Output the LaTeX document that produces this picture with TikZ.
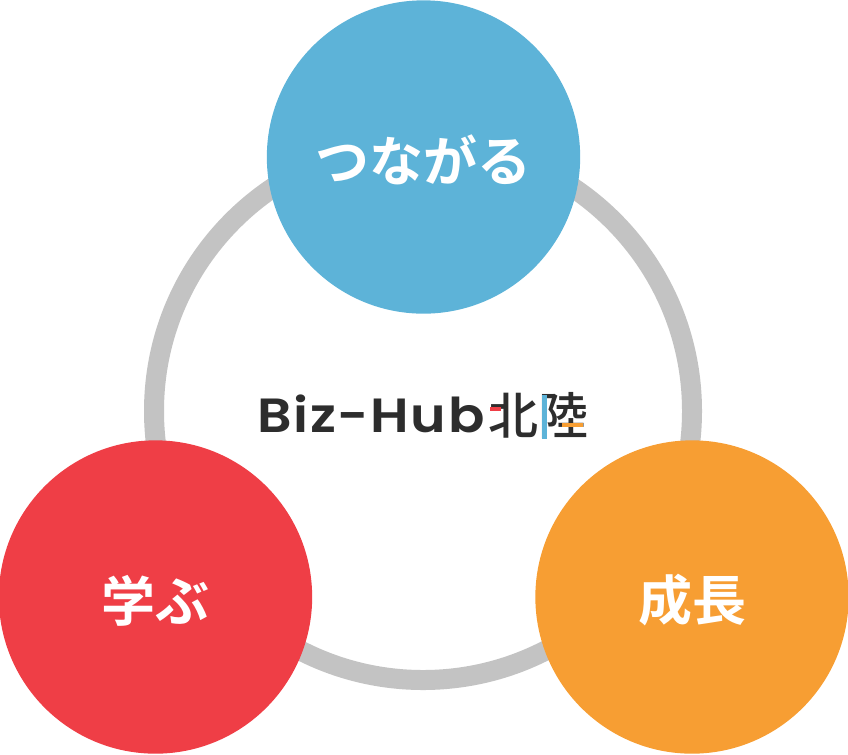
\documentclass[tikz,border=0pt]{standalone}
\usepackage{fontspec}
\usepackage{graphicx}
\setmainfont{Poppins}
\newfontfamily\cjk{Noto Sans CJK JP}[BoldFont={Noto Sans CJK JP Bold}]
\newfontfamily\logofont{Poppins SemiBold}[LetterSpace=3]
\newfontfamily\logocjk{Noto Sans CJK JP Medium}
\definecolor{ringgray}{RGB}{195,195,195}
\definecolor{topblue}{RGB}{93,179,216}
\definecolor{leftred}{RGB}{239,62,70}
\definecolor{rightorange}{RGB}{247,158,51}
\definecolor{logoblack}{RGB}{45,45,45}
\tikzset{every picture/.style={line width=0.75pt}}
\tikzset{
  bubble/.style={circle,draw=none,minimum size=235pt,inner sep=0pt,text=white,font=\cjk\fontsize{40.5}{40.5}\selectfont\bfseries},
  logotext/.style={inner sep=0pt,text=logoblack},
}
\begin{document}
\begin{tikzpicture}[x=0.75pt,y=0.75pt,yscale=-1,xscale=1]

	\useasboundingbox (0,0) rectangle (848,754);

	\draw [color=ringgray, line width=15pt] (423,411) circle (269);

	\node (top) [bubble, fill=topblue] at (423.5,157) {\raisebox{-2.5pt}[\height][\depth]{つながる}};
	\node (left) [bubble, fill=leftred] at (155.5,597) {\raisebox{-2.5pt}[\height][\depth]{学ぶ}};
	\node (right) [bubble, fill=rightorange] at (692,597) {\raisebox{-2.5pt}[\height][\depth]{成長}};

	\node (logo) [logotext, anchor=west, font=\logofont\fontsize{36}{36}\selectfont] at (257,414) {\scalebox{1.12}[1]{Biz-Hub}};
	\node (logokanji) [logotext, anchor=west, font=\logocjk\fontsize{37.5}{37.5}\selectfont] at (488,416) {北陸};

	\fill [leftred] (490,407) rectangle (501,411);
	\fill [topblue] (542,395) rectangle (547,439);
	\fill [rightorange] (562,423) rectangle (583,427);

\end{tikzpicture}
\end{document}
